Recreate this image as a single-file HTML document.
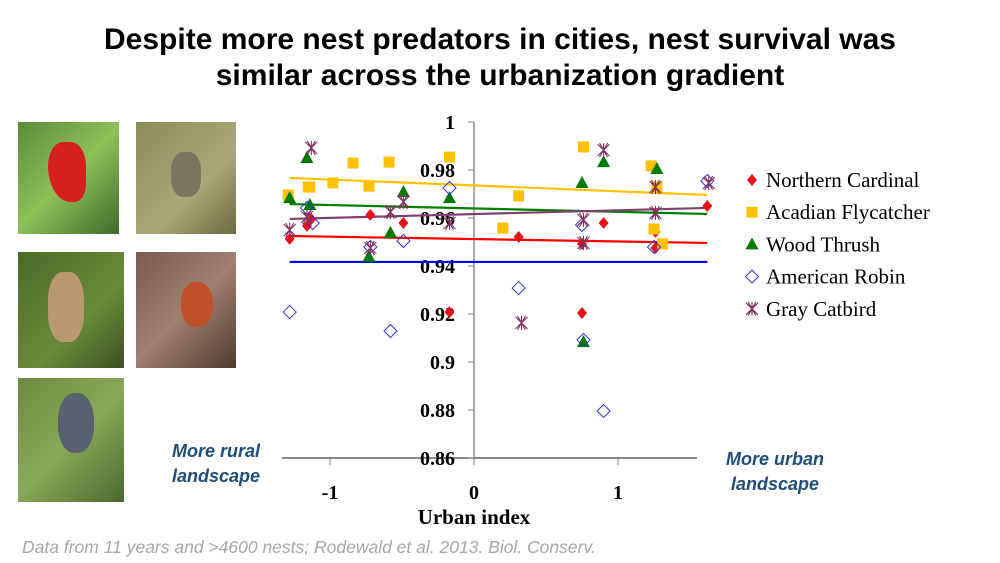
<!DOCTYPE html>
<html><head><meta charset="utf-8"><style>
html,body{margin:0;padding:0;background:#fff;}
#root{position:relative;width:1000px;height:563px;overflow:hidden;font-family:"Liberation Sans",sans-serif;}
.title{position:absolute;left:0;width:1000px;text-align:center;font-weight:bold;font-size:30px;color:#000;line-height:36px;top:22px;}
.photo{position:absolute;}
.note{position:absolute;color:#1f4e79;font-style:italic;font-weight:bold;font-size:18px;text-align:center;line-height:25px;}
.foot{position:absolute;left:22px;top:537px;color:#a6a6a6;font-style:italic;font-size:17.5px;}
</style></head><body>
<div id="root">
<div class="title">Despite more nest predators in cities, nest survival was<br>similar across the urbanization gradient</div>
<div class="photo" style="left:18px;top:122px;width:101px;height:112px;background:linear-gradient(135deg,#5d8a3a,#8fbf5a 50%,#3f6a2a)"><div style="position:absolute;left:30px;top:20px;width:38px;height:60px;background:#d42020;border-radius:40% 40% 30% 60%"></div></div>
<div class="photo" style="left:136px;top:122px;width:100px;height:112px;background:linear-gradient(135deg,#8a8a5a,#a8a878 60%,#6a6a40)"><div style="position:absolute;left:35px;top:30px;width:30px;height:45px;background:#7a7560;border-radius:40%"></div></div>
<div class="photo" style="left:18px;top:252px;width:106px;height:116px;background:linear-gradient(135deg,#4a6a2a,#6a8a3a 60%,#3a5020)"><div style="position:absolute;left:30px;top:20px;width:36px;height:70px;background:#b89a70;border-radius:40%"></div></div>
<div class="photo" style="left:136px;top:252px;width:100px;height:116px;background:linear-gradient(135deg,#7a5a50,#a08070 50%,#503a30)"><div style="position:absolute;left:45px;top:30px;width:32px;height:45px;background:#c0502a;border-radius:45%"></div></div>
<div class="photo" style="left:18px;top:378px;width:106px;height:124px;background:linear-gradient(135deg,#6a8a40,#8aa858 50%,#4a6a30)"><div style="position:absolute;left:40px;top:15px;width:36px;height:60px;background:#5a6070;border-radius:45%"></div></div>

<svg id="chart" width="1000" height="563" style="position:absolute;left:0;top:0"></svg>

<div class="note" style="left:158px;top:439px;width:116px;">More rural<br>landscape</div>
<div class="note" style="left:716px;top:447px;width:118px;">More urban<br>landscape</div>
<div class="foot">Data from 11 years and &gt;4600 nests; Rodewald et al. 2013.  Biol. Conserv.</div>
</div>
<script>
const seriesNames = ["Northern Cardinal","Acadian Flycatcher","Wood Thrush","American Robin","Gray Catbird"];
const cardinalX = [-1.28,-1.16,-1.13,-0.72,-0.49,-0.17,0.31,0.75,0.75,0.90,1.26,1.26,1.62];
const cardinalY = [0.9513,0.9567,0.9596,0.9613,0.9579,0.9208,0.9521,0.9204,0.9492,0.9579,0.9542,0.9475,0.965];
const flycatcherX = [-1.29,-1.15,-1.14,-0.98,-0.84,-0.59,-0.73,-0.17,0.31,0.20,0.76,1.23,1.25,1.31,1.27];
const flycatcherY = [0.9696,0.9729,0.9729,0.9746,0.9829,0.9833,0.9733,0.9854,0.9692,0.9558,0.9896,0.9817,0.9554,0.9492,0.9729];
const thrushX = [-1.28,-1.16,-1.14,-0.73,-0.58,-0.49,-0.17,0.75,0.76,0.90,1.27];
const thrushY = [0.9683,0.985,0.9654,0.9438,0.9538,0.9708,0.9683,0.9746,0.9083,0.9833,0.9804];
const robinX = [-1.28,-1.16,-1.12,-0.72,-0.58,-0.49,-0.17,0.31,0.75,0.76,0.90,1.25,1.62];
const robinY = [0.9208,0.9642,0.9579,0.9479,0.9129,0.9504,0.9725,0.9308,0.9571,0.9092,0.8796,0.9479,0.9754];
const catbirdX = [-1.28,-1.13,-1.16,-0.72,-0.58,-0.49,-0.17,0.33,0.76,0.76,0.90,1.26,1.26,1.63];
const catbirdY = [0.955,0.9892,0.9604,0.9475,0.9625,0.9667,0.9579,0.9163,0.9592,0.9496,0.9883,0.9729,0.9621,0.9746];
const trendStartX = -1.28, trendEndX = 1.62;
const trendStartY = [0.9525,0.9767,0.9658,0.9417,0.9596];
const trendEndY = [0.9496,0.9696,0.9617,0.9417,0.9642];
const yTicks = [0.86,0.88,0.9,0.92,0.94,0.96,0.98,1];
const yTickLabels = ["0.86","0.88","0.9","0.92","0.94","0.96","0.98","1"];
const xTicks = [-1,0,1];
const xTickLabels = ["-1","0","1"];

const NS="http://www.w3.org/2000/svg";
const svg=document.getElementById('chart');
const sx=v=>474+144*v;
const sy=v=>458-(v-0.86)*2400;
function mk(tag,attrs,parent){const e=document.createElementNS(NS,tag);for(const k in attrs)e.setAttribute(k,attrs[k]);(parent||svg).appendChild(e);return e;}
const colors=["#e8101a","#ffc000","#007a00","#3333cc","#7f3060"];
const lineColors=["#ff0000","#ffc000","#008000","#0000ff","#7f3f6f"];
const serif='"Liberation Serif",serif';

let a=mk('line',{x1:282,y1:sy(0.86),x2:697,y2:sy(0.86),stroke:'#404040','stroke-width':1.3});


a=mk('line',{x1:sx(0),y1:sy(1),x2:sx(0),y2:sy(0.86),stroke:'#808080','stroke-width':1.3});


yTicks.forEach((t,i)=>{
  const tk=mk('line',{x1:sx(0)-6,y1:sy(t),x2:sx(0),y2:sy(t),stroke:'#808080'});
  
  
  const tx=mk('text',{x:455,y:sy(t)+7,'text-anchor':'end','font-family':serif,'font-weight':'bold','font-size':20});
  tx.textContent=yTickLabels[i];
  
  
});
xTicks.forEach((t,i)=>{
  const tk=mk('line',{x1:sx(t),y1:sy(0.86),x2:sx(t),y2:sy(0.86)+7,stroke:'#808080'});
  
  
  const tx=mk('text',{x:sx(t),y:499,'text-anchor':'middle','font-family':serif,'font-weight':'bold','font-size':20});
  tx.textContent=xTickLabels[i];
  
  
});
let xt=mk('text',{x:sx(0),y:524,'text-anchor':'middle','font-family':serif,'font-weight':'bold','font-size':21});
xt.textContent='Urban index';



trendStartY.forEach((v,i)=>{
  const l=mk('line',{x1:sx(trendStartX),y1:sy(v),x2:sx(trendEndX),y2:sy(trendEndY[i]),stroke:lineColors[i],'stroke-width':2.2});
  
  
});

function marker(type,x,y,g){
  let e;
  if(type===0){e=mk('polygon',{points:`${x},${y-6} ${x+5},${y} ${x},${y+6} ${x-5},${y}`,fill:colors[0]},g);}
  else if(type===1){e=mk('rect',{x:x-5.5,y:y-5.5,width:11,height:11,fill:colors[1]},g);}
  else if(type===2){e=mk('polygon',{points:`${x},${y-7} ${x+6.5},${y+5} ${x-6.5},${y+5}`,fill:colors[2]},g);}
  else if(type===3){e=mk('polygon',{points:`${x},${y-6.5} ${x+6.5},${y} ${x},${y+6.5} ${x-6.5},${y}`,fill:'none',stroke:colors[3],'stroke-width':1},g);}
  else {e=mk('path',{d:`M${x-6},${y-6}L${x+6},${y+6}M${x+6},${y-6}L${x-6},${y+6}M${x},${y-7}L${x},${y+7}M${x-4},${y-7}L${x+4},${y+7}M${x+4},${y-7}L${x-4},${y+7}`,stroke:colors[4],'stroke-width':1.1,fill:'none'},g);}
  return e;
}
const allX=[cardinalX,flycatcherX,thrushX,robinX,catbirdX];
const allY=[cardinalY,flycatcherY,thrushY,robinY,catbirdY];
const keys=['cardinal','flycatcher','thrush','robin','catbird'];
allX.forEach((xs,s)=>{
  xs.forEach((xv,i)=>{
    const m=marker(s,sx(xv),sy(allY[s][i]));
    
    
  });
});
seriesNames.forEach((n,i)=>{
  const y=180+i*32.2;
  const m=marker(i,752,y);
  
  
  const t=mk('text',{x:766,y:y+7,'font-family':serif,'font-size':21});
  t.textContent=n;
  
  
});
</script>
</body></html>
